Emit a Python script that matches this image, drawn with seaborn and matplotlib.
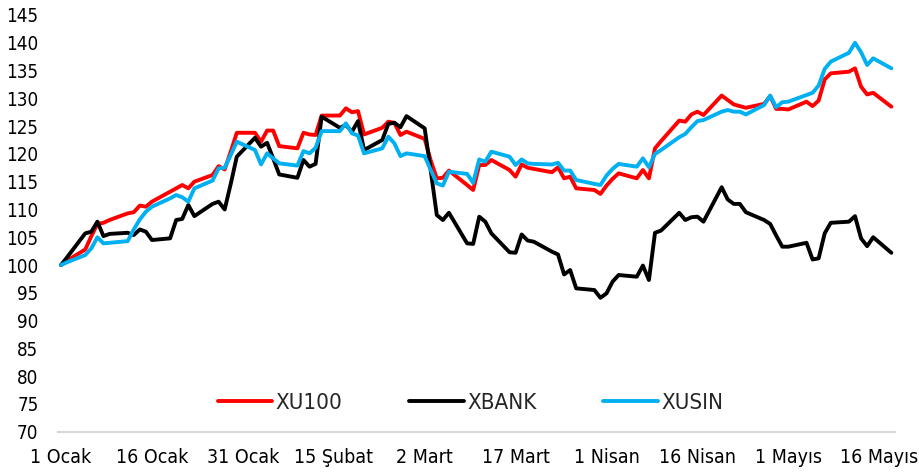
import numpy as np
import pandas as pd
import seaborn as sns
import matplotlib.pyplot as plt
from matplotlib.lines import Line2D

# ---- data (day offset from 1 Ocak, trading days) ----
days = [0, 1,
        4, 5, 6, 7, 8, 11, 12, 13, 14, 15, 18, 19, 20, 21, 22,
        25, 26, 27, 28, 29, 32, 33, 34, 35, 36, 39, 40, 41, 42, 43,
        46, 47, 48, 49, 50, 53, 54, 55, 56, 57, 60, 61, 62, 63, 64,
        67, 68, 69, 70, 71, 74, 75, 76, 77, 78, 81, 82, 83, 84, 85,
        88, 89, 90, 91, 92, 95, 96, 97, 98, 99, 102, 103, 104, 105, 106,
        109, 110, 111, 112, 113, 116, 117, 118, 119, 120, 123, 124, 125, 126, 127,
        130, 131, 132, 133, 134, 137]

xu100 = [100.0, 100.8,
         102.8, 105.2, 107.4, 107.6, 108.1, 109.3, 109.5, 110.7, 110.5, 111.4, 113.2, 113.8, 114.4, 113.8, 115.0,
         116.2, 117.8, 117.2, 120.4, 123.8, 123.8, 122.2, 124.2, 124.2, 121.4, 121.0, 123.8, 123.5, 123.4, 126.9,
         126.9, 128.2, 127.5, 127.7, 123.5, 124.7, 125.8, 125.6, 123.4, 124.0, 122.7, 118.8, 115.6, 115.7, 117.0,
         114.4, 113.5, 118.0, 118.0, 118.9, 117.1, 115.9, 118.1, 117.5, 117.3, 116.7, 117.6, 115.6, 115.9, 113.8,
         113.5, 112.8, 114.3, 115.5, 116.5, 115.6, 117.1, 115.6, 121.0, 122.3, 126.0, 125.8, 127.1, 127.6, 127.0,
         130.5, 129.7, 128.9, 128.6, 128.3, 129.0, 130.4, 128.1, 128.1, 128.0, 129.4, 128.6, 129.6, 133.4, 134.5,
         134.8, 135.4, 132.1, 130.7, 131.0, 128.5]

xbank = [100.0, 101.4,
         105.7, 106.0, 107.8, 105.2, 105.6, 105.8, 105.4, 106.4, 106.0, 104.5, 104.8, 108.1, 108.3, 110.8, 108.8,
         111.0, 111.4, 110.0, 114.6, 119.5, 122.9, 121.3, 122.0, 119.2, 116.3, 115.7, 118.9, 117.7, 118.2, 126.7,
         124.7, 125.2, 124.0, 125.9, 120.7, 122.5, 125.4, 125.6, 124.8, 126.8, 124.6, 117.0, 109.0, 108.1, 109.4,
         103.9, 103.8, 108.7, 107.8, 105.7, 102.3, 102.2, 105.5, 104.4, 104.2, 102.4, 101.9, 98.3, 99.1, 95.8,
         95.5, 94.1, 94.9, 97.0, 98.2, 97.9, 99.9, 97.3, 105.8, 106.2, 109.4, 108.1, 108.6, 108.7, 107.8,
         114.0, 111.8, 111.0, 111.0, 109.5, 108.1, 107.4, 105.3, 103.3, 103.3, 104.0, 101.0, 101.2, 105.7, 107.6,
         107.8, 108.8, 104.8, 103.4, 105.0, 102.2]

xusin = [100.0, 100.5,
         101.8, 103.0, 105.0, 103.9, 104.0, 104.3, 106.4, 108.2, 109.6, 110.5, 112.0, 112.6, 112.2, 111.4, 113.8,
         115.2, 117.4, 117.5, 119.8, 122.2, 120.7, 118.1, 120.1, 119.2, 118.3, 117.9, 120.5, 120.1, 121.1, 124.1,
         124.1, 125.5, 123.7, 123.3, 120.1, 121.0, 123.1, 121.9, 119.6, 120.1, 119.6, 117.1, 114.7, 114.3, 116.8,
         116.4, 114.8, 119.0, 118.6, 120.4, 119.5, 118.0, 119.0, 118.3, 118.2, 118.1, 118.4, 117.0, 117.0, 115.3,
         114.6, 114.4, 116.1, 117.3, 118.2, 117.7, 119.2, 117.6, 120.0, 120.7, 123.0, 123.6, 124.8, 125.9, 126.1,
         127.6, 127.9, 127.6, 127.6, 127.1, 128.8, 130.5, 128.4, 129.3, 129.4, 130.6, 131.0, 132.3, 135.3, 136.6,
         138.2, 140.0, 138.3, 136.0, 137.2, 135.4]

series_names = ["XU100", "XBANK", "XUSIN"]
series_colors = ["#FF0000", "#000000", "#00B0F0"]
tick_days = [0, 15, 30, 45, 60, 75, 90, 105, 120, 135]
tick_labels = ["1 Ocak", "16 Ocak", "31 Ocak", "15 Şubat", "2 Mart",
               "17 Mart", "1 Nisan", "16 Nisan", "1 Mayıs", "16 Mayıs"]
y_ticks = list(range(70, 146, 5))

assert len(days) == len(xu100) == len(xbank) == len(xusin)

df = pd.DataFrame({
    "gun": days * 3,
    "deger": xu100 + xbank + xusin,
    "seri": [series_names[0]] * len(days) + [series_names[1]] * len(days) + [series_names[2]] * len(days),
})

sns.set_style("white")
plt.rcParams["font.family"] = ["DejaVu Sans"]
plt.rcParams["font.stretch"] = "condensed"

fig = plt.figure(figsize=(9.2, 4.72), dpi=100)
W, H = 920, 472
left, right, top, bottom = 58, 895, 15, 431.7
ax = fig.add_axes([left / W, 1 - bottom / H, (right - left) / W, (bottom - top) / H])

palette = dict(zip(series_names, series_colors))
sns.lineplot(data=df, x="gun", y="deger", hue="seri", hue_order=series_names,
             palette=palette, linewidth=2.8, estimator=None, sort=False,
             legend=False, ax=ax)

ax.set_xlim(-0.5, 137.6)
ax.set_ylim(70, 145)
ax.set_yticks(y_ticks)
ax.set_yticklabels([str(v) for v in y_ticks])
ax.set_xticks(tick_days)
ax.set_xticklabels(tick_labels)
ax.set_xlabel("")
ax.set_ylabel("")
ax.tick_params(axis="both", length=0, labelsize=13.5, colors="#000000")
ax.tick_params(axis="x", labelsize=14)
ax.tick_params(axis="y", pad=14)
ax.tick_params(axis="x", pad=12)
for s in ["left", "right", "top"]:
    ax.spines[s].set_visible(False)
ax.spines["bottom"].set_color("#D9D9D9")
ax.spines["bottom"].set_linewidth(1.6)
ax.grid(False)

handles = [Line2D([0], [0], color=c, lw=2.8) for c in series_colors]
leg = ax.legend(handles, series_names, ncol=3, frameon=False,
                loc="center left", bbox_to_anchor=((218 - left) / (right - left), (bottom - 403) / (bottom - top)),
                fontsize=16, handlelength=2.45, handletextpad=0.15, columnspacing=3.0,
                borderpad=0, borderaxespad=0)

fig.savefig("out.png", dpi=100)
